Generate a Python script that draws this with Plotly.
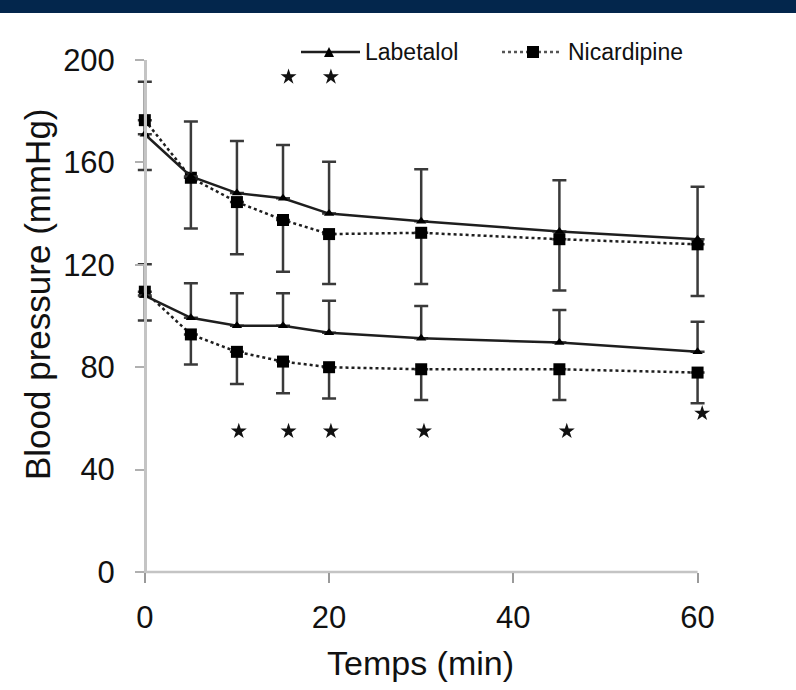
import plotly.graph_objects as go

# ---------------- data ----------------
time_min = [0, 5, 10, 15, 20, 30, 45, 60]

labetalol_sys = [171, 154.5, 148, 146, 140, 137, 133, 130]
labetalol_sys_sd = [20.5, 21.5, 20.4, 20.8, 20.3, 20.3, 20.0, 20.5]
nicardipine_sys = [176.5, 154, 144.5, 137.5, 132, 132.5, 130, 128]
nicardipine_sys_sd = [19.5, 19.8, 20.4, 20.2, 19.5, 20.0, 20.0, 20.2]

labetalol_dia = [108, 99.3, 96.2, 96.2, 93.5, 91.3, 89.6, 86]
labetalol_dia_sd = [12.2, 13.5, 12.7, 12.7, 12.5, 12.6, 12.7, 11.8]
nicardipine_dia = [109.5, 92.8, 86, 82.2, 80, 79.2, 79.2, 77.9]
nicardipine_dia_sd = [11.3, 11.7, 12.6, 12.4, 12.2, 12.0, 12.0, 12.0]

sig_upper_x = [15.6, 20.2]
sig_upper_y = [193.4, 193.4]
sig_lower_x = [10.2, 15.6, 20.2, 30.3, 45.8, 60.5]
sig_lower_y = [55, 55, 55, 55, 55, 62]

x_ticks = [0, 20, 40, 60]
y_ticks = [0, 40, 80, 120, 160, 200]
series_names = ["Labetalol", "Nicardipine"]

# ---------------- layout geometry ----------------
W_PX, H_PX = 796, 690
X_RANGE = [-1.5, 62]
L, R, T, B = 131, 80, 60, 118
PW, PH = W_PX - L - R, H_PX - T - B
UNIT = PW / (X_RANGE[1] - X_RANGE[0])
X0_PX = L + (0 - X_RANGE[0]) * UNIT
X60_PX = L + (60 - X_RANGE[0]) * UNIT


def px2x(px):
    return (px - L) / PW


def py2y(py):
    return (T + PH - py) / PH


FONT = "Liberation Sans, Arial, sans-serif"
LINE_DARK = "#1e1e1e"
ERR_COL = "#3a3a3a"
AXIS_COL = "#c4c4c4"

fig = go.Figure()


def add_series(y, sd, up, sym, size, dash):
    err = dict(type="data", symmetric=False, color=ERR_COL, thickness=2.5, width=7)
    if up:
        err.update(array=sd, arrayminus=[0] * len(sd))
    else:
        err.update(array=[0] * len(sd), arrayminus=sd)
    fig.add_trace(go.Scatter(
        x=time_min, y=y, mode="lines+markers",
        line=dict(color=LINE_DARK, width=2.5, dash=dash),
        marker=dict(symbol=sym, size=size, color="#000000"),
        error_y=err, cliponaxis=False, showlegend=False,
    ))


add_series(nicardipine_sys, nicardipine_sys_sd, False, "square", 12, "dot")
add_series(labetalol_sys, labetalol_sys_sd, True, "triangle-up", 9, "solid")
add_series(nicardipine_dia, nicardipine_dia_sd, False, "square", 12, "dot")
add_series(labetalol_dia, labetalol_dia_sd, True, "triangle-up", 9, "solid")

fig.add_trace(go.Scatter(x=sig_upper_x + sig_lower_x, y=sig_upper_y + sig_lower_y,
                         mode="markers", marker=dict(symbol="star", size=12, color="#111111"),
                         cliponaxis=False, showlegend=False))

shapes = []
annotations = []

# top navy band
shapes.append(dict(type="rect", xref="paper", yref="paper",
                   x0=px2x(0), x1=px2x(W_PX), y0=py2y(13), y1=py2y(0),
                   fillcolor="#03264C", line=dict(width=0), layer="above"))

# x axis line from 0 to 60 only
shapes.append(dict(type="line", xref="paper", yref="paper",
                   x0=px2x(X0_PX - 1), x1=px2x(X60_PX), y0=0, y1=0,
                   line=dict(color=AXIS_COL, width=2.5), layer="below"))

# manual legend
leg_y = 52
shapes.append(dict(type="line", xref="paper", yref="paper",
                   x0=px2x(301), x1=px2x(360), y0=py2y(leg_y), y1=py2y(leg_y),
                   line=dict(color=LINE_DARK, width=2.5)))
tx, ty, ts = 329, leg_y, 5
shapes.append(dict(type="path", xref="paper", yref="paper",
                   path=f"M {px2x(tx - ts)} {py2y(ty + ts)} L {px2x(tx + ts)} {py2y(ty + ts)} L {px2x(tx)} {py2y(ty - ts)} Z",
                   fillcolor="#000000", line=dict(width=0)))
annotations.append(dict(x=px2x(363), y=py2y(leg_y), xref="paper", yref="paper",
                        text=series_names[0], showarrow=False, xanchor="left", yanchor="middle",
                        font=dict(family=FONT, size=23, color="#111111")))
shapes.append(dict(type="line", xref="paper", yref="paper",
                   x0=px2x(502), x1=px2x(562), y0=py2y(leg_y), y1=py2y(leg_y),
                   line=dict(color="#555555", width=2.5, dash="dot")))
sx, ss = 533, 6
shapes.append(dict(type="rect", xref="paper", yref="paper",
                   x0=px2x(sx - ss), x1=px2x(sx + ss), y0=py2y(leg_y + ss), y1=py2y(leg_y - ss),
                   fillcolor="#000000", line=dict(width=0)))
annotations.append(dict(x=px2x(566), y=py2y(leg_y), xref="paper", yref="paper",
                        text=series_names[1], showarrow=False, xanchor="left", yanchor="middle",
                        font=dict(family=FONT, size=23, color="#111111")))

# axis titles
annotations.append(dict(x=px2x(420), y=py2y(663), xref="paper", yref="paper",
                        text="Temps (min)", showarrow=False, xanchor="center", yanchor="middle",
                        font=dict(family=FONT, size=34, color="#111111")))
annotations.append(dict(x=px2x(37), y=py2y(294), xref="paper", yref="paper",
                        text="Blood pressure (mmHg)", showarrow=False, textangle=-90,
                        xanchor="center", yanchor="middle",
                        font=dict(family=FONT, size=35, color="#111111")))

fig.update_layout(
    width=W_PX, height=H_PX,
    margin=dict(l=L, r=R, t=T, b=B, pad=0),
    paper_bgcolor="#ffffff", plot_bgcolor="#ffffff",
    shapes=shapes, annotations=annotations,
    showlegend=False,
)
fig.update_xaxes(range=X_RANGE, tickvals=x_ticks, ticktext=[str(v) for v in x_ticks],
                 showgrid=False, zeroline=False, showline=False,
                 ticks="outside", ticklen=10, tickwidth=2, tickcolor="#9a9a9a",
                 tickfont=dict(family=FONT, size=31, color="#111111"), ticklabelstandoff=8)
fig.update_yaxes(range=[0, 200], tickvals=y_ticks, ticktext=[str(v) for v in y_ticks],
                 anchor="free", position=(X0_PX - L) / PW,
                 showgrid=False, zeroline=False, showline=True, linecolor=AXIS_COL, linewidth=2.5,
                 ticks="outside", ticklen=9, tickwidth=2, tickcolor="#b0b0b0",
                 tickfont=dict(family=FONT, size=31, color="#111111"), ticklabelstandoff=14)

fig.write_html("out.html")
